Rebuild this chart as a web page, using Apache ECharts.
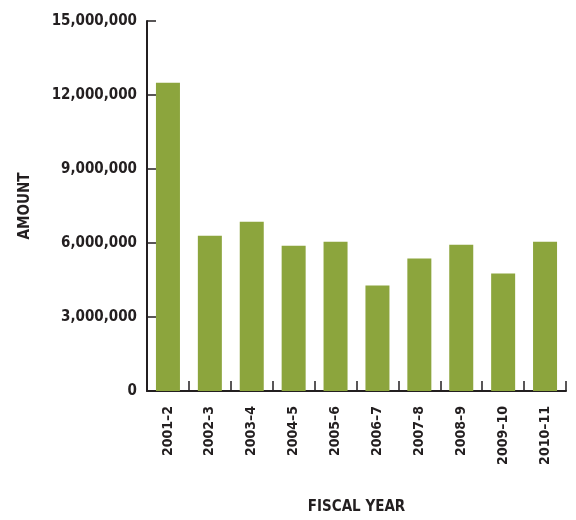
<!DOCTYPE html>
<html>
<head>
<meta charset="utf-8">
<style>
  html, body { margin: 0; padding: 0; background: #ffffff; }
  #chart { width: 576px; height: 520px; }
</style>
<script src="https://cdn.jsdelivr.net/npm/echarts@6/dist/echarts.min.js"></script>
</head>
<body>
<div id="chart"></div>
<script>
// Fiscal years shown along the bottom
const fiscalYears = ['2001\u20132', '2002\u20133', '2003\u20134', '2004\u20135', '2005\u20136',
                     '2006\u20137', '2007\u20138', '2008\u20139', '2009\u201310', '2010\u201311'];

// Amount for each fiscal year
const amounts = [12500000, 6290000, 6860000, 5890000, 6050000,
                 4280000, 5370000, 5930000, 4760000, 6050000];

// Value axis range and step
const yMin = 0;
const yMax = 15000000;
const yStep = 3000000;

const labelFont = '"DejaVu Sans Condensed", "Liberation Sans Narrow", sans-serif';
const ink = '#231f20';

const chart = echarts.init(document.getElementById('chart'), null, { renderer: 'canvas' });

chart.setOption({
  animation: false,
  backgroundColor: '#ffffff',
  grid: { left: 147, right: 10, top: 21, bottom: 127, containLabel: false },
  xAxis: {
    type: 'category',
    data: fiscalYears,
    boundaryGap: true,
    name: 'FISCAL YEAR',
    nameLocation: 'middle',
    nameGap: 109,
    nameTextStyle: { fontFamily: labelFont, fontWeight: 'bold', fontSize: 15, color: ink },
    axisLine: { lineStyle: { color: ink, width: 2 } },
    axisTick: { show: true, inside: true, length: 10, alignWithLabel: false,
                lineStyle: { color: ink, width: 1.5 } },
    axisLabel: { rotate: 90, margin: 15, fontFamily: labelFont, fontWeight: 'bold',
                 fontSize: 14, color: ink },
    splitLine: { show: false }
  },
  yAxis: {
    type: 'value',
    min: yMin,
    max: yMax,
    interval: yStep,
    name: 'AMOUNT',
    nameLocation: 'middle',
    nameGap: 114,
    nameRotate: 90,
    nameTextStyle: { fontFamily: labelFont, fontWeight: 'bold', fontSize: 15, color: ink },
    axisLine: { show: true, lineStyle: { color: ink, width: 2 } },
    axisTick: { show: true, inside: true, length: 9, lineStyle: { color: ink, width: 1.5 } },
    axisLabel: {
      margin: 10, fontFamily: labelFont, fontWeight: 'bold', fontSize: 15, color: ink,
      formatter: v => v.toLocaleString('en-US')
    },
    splitLine: { show: false }
  },
  series: [{
    type: 'bar',
    data: amounts,
    barWidth: 24,
    itemStyle: { color: '#8ca53d' }
  }]
});
</script>
</body>
</html>
